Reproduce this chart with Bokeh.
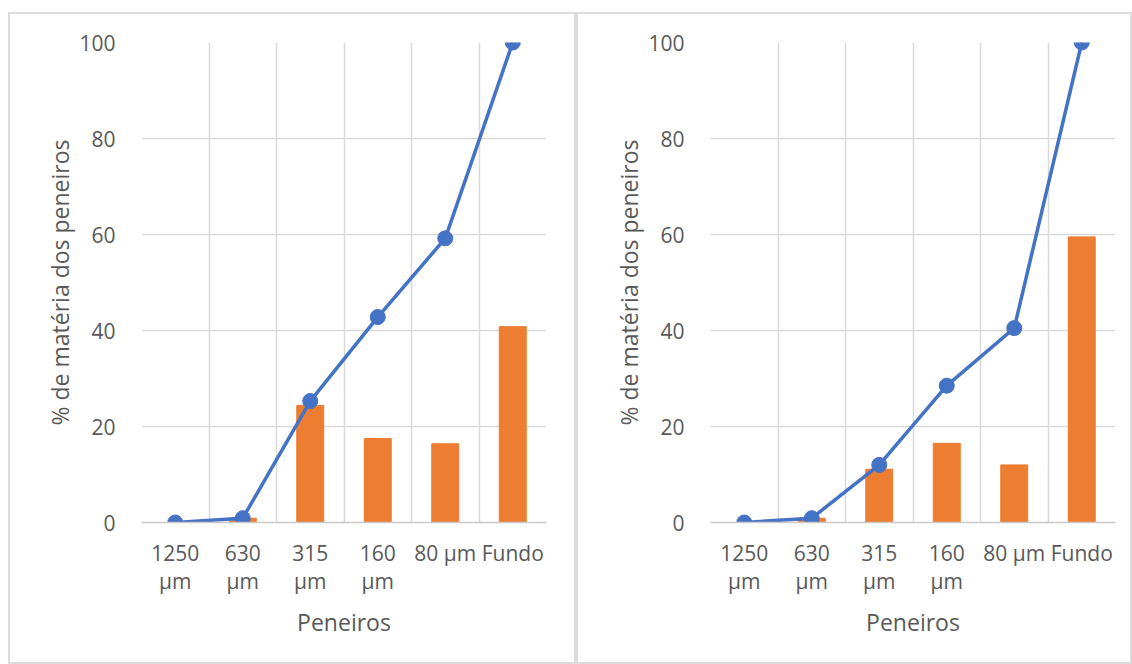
from bokeh.plotting import figure
from bokeh.layouts import row
from bokeh.models import ColumnDataSource, FixedTicker, Range1d
from bokeh.embed import file_html
from bokeh.resources import INLINE

# Sieve categories
sieves = ["1250 µm", "630 µm", "315 µm", "160 µm", "80 µm", "Fundo"]
sieve_labels = ["1250\nµm", "630\nµm", "315\nµm", "160\nµm", "80 µm", "Fundo"]

# Sample A: retained % per sieve and cumulative %
retained_a = [0.0, 0.9, 24.4, 17.5, 16.4, 40.8]
cumulative_a = [0.0, 0.9, 25.3, 42.8, 59.2, 100.0]

# Sample B: retained % per sieve and cumulative %
retained_b = [0.0, 0.9, 11.1, 16.5, 12.0, 59.5]
cumulative_b = [0.0, 0.9, 12.0, 28.5, 40.5, 100.0]

y_ticks = [0, 20, 40, 60, 80, 100]

FONT = "Open Sans"
TEXT = "#595959"
GRID = "#d9d9d9"
BAR = "#ED7D31"
LINE = "#4472C4"


def make_panel(retained, cumulative, width, left, right):
    centers = [i + 0.5 for i in range(len(sieves))]
    src = ColumnDataSource(dict(x=centers, ret=retained, cum=cumulative))

    p = figure(width=width, height=652, output_backend="svg", toolbar_location=None,
               x_range=Range1d(0, len(sieves)), y_range=Range1d(0, 100),
               min_border_left=left, min_border_right=right,
               min_border_top=28, min_border_bottom=144,
               background_fill_color="white", border_fill_color="white")
    p.outline_line_color = None
    p.styles = {"border": "2px solid #dcdcdc", "box-sizing": "border-box"}

    p.vbar(x="x", top="ret", width=0.4, bottom=0, color=BAR, source=src)
    p.line(x="x", y="cum", line_color=LINE, line_width=3.5, source=src)
    p.scatter(x="x", y="cum", size=15, color=LINE, source=src)

    # x axis: labels at category centers, grid at category boundaries
    p.xaxis.ticker = FixedTicker(ticks=centers)
    p.xaxis.major_label_overrides = {c: lab for c, lab in zip(centers, sieve_labels)}
    p.xgrid.ticker = FixedTicker(ticks=list(range(len(sieves) + 1)))
    p.xaxis.axis_line_color = "#c9c9c9"
    p.xaxis.axis_line_width = 1.5
    p.xaxis.major_tick_line_color = None
    p.xaxis.minor_tick_line_color = None
    p.xaxis.major_label_standoff = 10
    p.xaxis.major_label_text_line_height = 1.0
    p.xaxis.axis_label = "Peneiros"
    p.xaxis.axis_label_standoff = 8

    p.yaxis.ticker = FixedTicker(ticks=y_ticks)
    p.yaxis.axis_line_color = None
    p.yaxis.major_tick_line_color = None
    p.yaxis.minor_tick_line_color = None
    p.yaxis.major_label_standoff = 20
    p.yaxis.axis_label = "% de matéria dos peneiros"
    p.yaxis.axis_label_standoff = 0

    for ax in (p.xaxis[0], p.yaxis[0]):
        ax.major_label_text_font = FONT
        ax.major_label_text_font_size = "21px"
        ax.major_label_text_color = TEXT
        ax.axis_label_text_font = FONT
        ax.axis_label_text_font_size = "23px"
        ax.axis_label_text_font_style = "normal"
        ax.axis_label_text_color = TEXT

    p.xgrid.grid_line_color = GRID
    p.ygrid.grid_line_color = GRID
    p.xgrid.grid_line_width = 1.5
    p.ygrid.grid_line_width = 1.5
    return p


p1 = make_panel(retained_a, cumulative_a, 568, 131, 32)
p1.margin = (12, 0, 0, 8)
p2 = make_panel(retained_b, cumulative_b, 556, 132, 19)
p2.margin = (12, 0, 0, 0)

layout = row(p1, p2)
open("out.html", "w").write(file_html(layout, INLINE))
